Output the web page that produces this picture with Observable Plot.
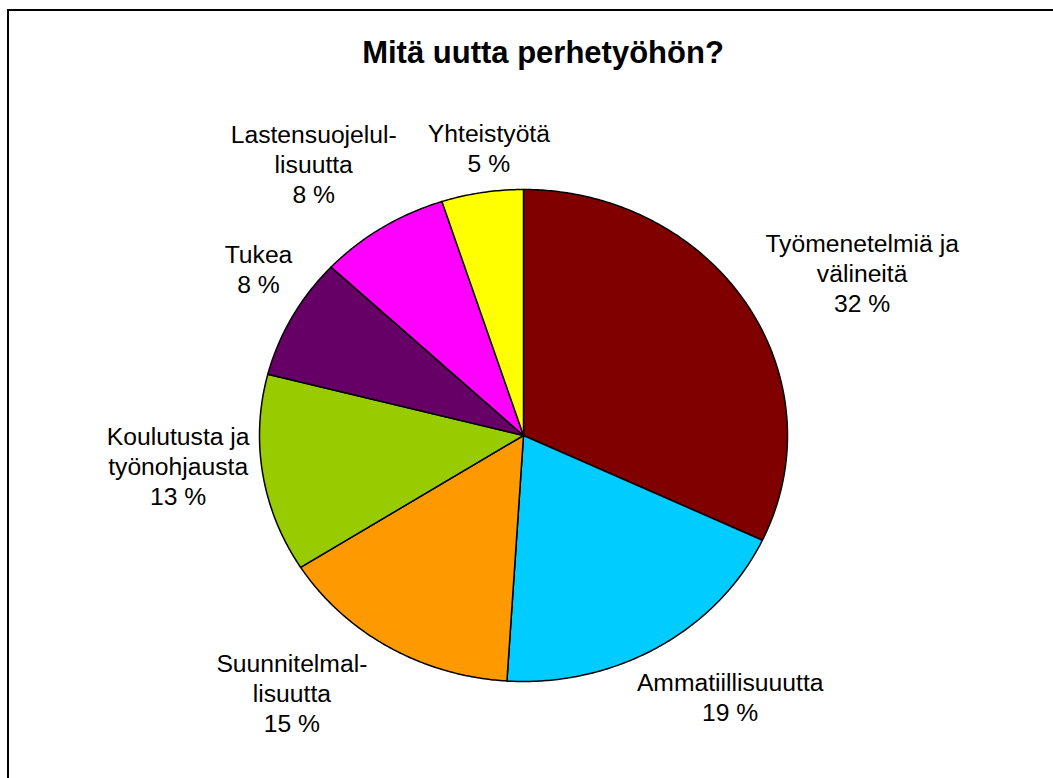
<!DOCTYPE html>
<html><head><meta charset="utf-8">
<script src="https://cdn.jsdelivr.net/npm/d3@7"></script>
<script src="https://cdn.jsdelivr.net/npm/@observablehq/plot@0.6"></script>
<style>
html,body{margin:0;padding:0;background:#fff;overflow:hidden}
#wrap{position:relative;width:1053px;height:778px;overflow:hidden;background:#fff}
#border{position:absolute;left:7px;top:9px;width:2000px;height:2000px;border:2px solid #000}
#chart{position:absolute;left:0;top:0}
</style></head><body><div id="wrap"><div id="border"></div><div id="chart"></div></div>
<script>
const title = "Mitä uutta perhetyöhön?";
const categories = ["Työmenetelmiä ja välineitä","Ammatiillisuuutta","Suunnitelmallisuutta","Koulutusta ja työnohjausta","Tukea","Lastensuojelullisuutta","Yhteistyötä"];
const values = [32, 19, 15, 13, 8, 8, 5];
const labelLines = ["Työmenetelmiä ja\nvälineitä","Ammatiillisuuutta","Suunnitelmal-\nlisuutta","Koulutusta ja\ntyönohjausta","Tukea","Lastensuojelul-\nlisuutta","Yhteistyötä"];
const colors = ["#800000","#00CCFF","#FF9900","#99CC00","#660066","#FF00FF","#FFFF00"];

// geometry (pixels)
const cx = 523, cy = 435, rx = 264, ry = 246;
const labelFont = 24.7, lineH = 30;
const Ax = 275, Ay = 265;
const labelRotation = 4 * Math.PI / 180;

const total = d3.sum(values);
const cum = d3.cumsum(values);
const slices = categories.map((c, i) => ({
  cat: c,
  a0: 2 * Math.PI * (cum[i] - values[i]) / total,
  a1: 2 * Math.PI * cum[i] / total,
  value: values[i]
}));

const pts = [];
for (const s of slices) {
  pts.push({cat: s.cat, x: 0, y: 0});
  const n = Math.max(2, Math.ceil((s.a1 - s.a0) / (Math.PI / 360)));
  for (let k = 0; k <= n; k++) {
    const a = s.a0 + (s.a1 - s.a0) * k / n;
    pts.push({cat: s.cat, x: Math.sin(a), y: Math.cos(a)});
  }
  pts.push({cat: s.cat, x: 0, y: 0});
}

const ctx = document.createElement("canvas").getContext("2d");
ctx.font = `${labelFont}px Arial, "Liberation Sans", sans-serif`;
const clamp = v => Math.max(-1, Math.min(1, v));
const labels = slices.map((s, i) => {
  const text = `${labelLines[i]}\n${values[i]} %`;
  const lines = text.split("\n");
  const hw = d3.max(lines, l => ctx.measureText(l).width) / 2;
  const hh = ((lines.length - 1) * lineH + 17.6) / 2;
  const m = (s.a0 + s.a1) / 2 + labelRotation;
  const sn = Math.sin(m), cs = Math.cos(m);
  const px = sn * Ax + hw * clamp(sn / 0.5);
  const py = cs * Ay + hh * clamp(cs / 0.5);
  return {text, x: px / rx, y: py / ry};
});

const chart = Plot.plot({
  width: 1053,
  height: 778,
  margin: 0,
  x: {domain: [-1, 1], range: [cx - rx, cx + rx], axis: null},
  y: {domain: [-1, 1], range: [cy + ry, cy - ry], axis: null},
  color: {domain: categories, range: colors},
  style: {fontFamily: 'Arial, "Liberation Sans", sans-serif', background: "transparent", color: "#000"},
  marks: [
    Plot.line(pts, {x: "x", y: "y", z: "cat", fill: "cat", stroke: "#000", strokeWidth: 1.5, strokeLinejoin: "round"}),
    Plot.text(labels, {x: "x", y: "y", text: "text", fontSize: labelFont, lineHeight: lineH / labelFont, lineAnchor: "middle", textAnchor: "middle", fill: "#000"}),
    Plot.text([title], {text: d => d, frameAnchor: "top", dx: 16, dy: 40.5, lineAnchor: "top", fontSize: 31, fontWeight: "bold", fill: "#000"})
  ]
});
document.getElementById("chart").appendChild(chart);
</script></body></html>
